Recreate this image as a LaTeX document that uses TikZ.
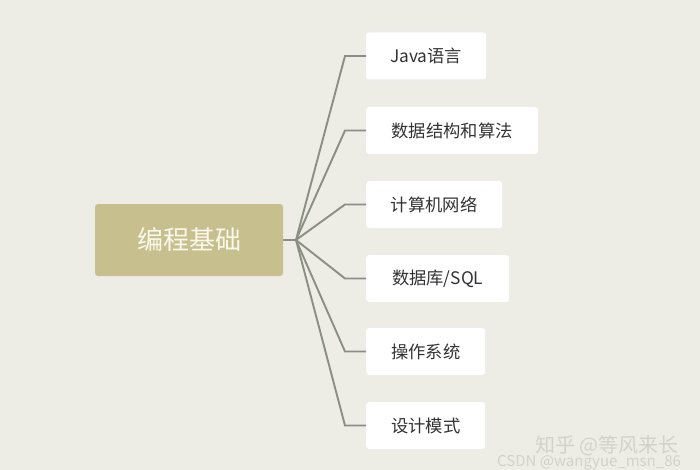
\documentclass[tikz,border=0pt]{standalone}
\usepackage{fontspec}
\setmainfont{Noto Sans CJK SC}
\begin{document}
\begin{tikzpicture}[x=1pt,y=-1pt,
  rootbox/.style={fill=rootc, rounded corners=3pt, minimum width=188pt, minimum height=72pt, text=roott, font=\fontsize{26}{30}\selectfont, inner sep=0pt},
  leafbox/.style={fill=white, rounded corners=3pt, minimum height=47pt, text=leaft, font=\fontsize{17.3}{20}\selectfont, inner sep=0pt, anchor=west},
  link/.style={draw=linec, line width=1.9pt},
  wm/.style={text=wmc, inner sep=0pt}]
\definecolor{bgc}{HTML}{EDEDE6}
\definecolor{rootc}{HTML}{C8BF8E}
\definecolor{roott}{HTML}{FBF8EC}
\definecolor{leaft}{HTML}{333333}
\definecolor{linec}{HTML}{8B8D87}
\definecolor{wmc}{HTML}{D2D2CC}
\fill[bgc] (0,0) rectangle (700,470);
\useasboundingbox (0,0) rectangle (700,470);
\node[rootbox] (root) at (189,240) {编程基础};
\coordinate (j) at (296,240);
\node[leafbox, minimum width=120pt] (c1) at (366,56) {Java语言};
\node[leafbox, minimum width=172pt] (c2) at (366,130.5) {数据结构和算法};
\node[leafbox, minimum width=136pt] (c3) at (366,204.5) {计算机网络};
\node[leafbox, minimum width=143pt] (c4) at (366,278.5) {数据库/SQL};
\node[leafbox, minimum width=119pt] (c5) at (366,351.5) {操作系统};
\node[leafbox, minimum width=119pt] (c6) at (366,425.5) {设计模式};
\draw[link] (root.east) -- (j);
\foreach \c in {c1,c2,c3,c4,c5,c6}{
  \draw[link] (j) -- (345,0 |- \c.west) -- (\c.west);
}
\node[wm, font=\fontsize{20}{22}\selectfont, anchor=west] (w1) at (535,446) {知乎 @等风来长};
\node[wm, font=\fontsize{15}{17}\selectfont, anchor=west] (w2) at (497,463) {CSDN @wangyue\_msn\_86};
\end{tikzpicture}
\end{document}
